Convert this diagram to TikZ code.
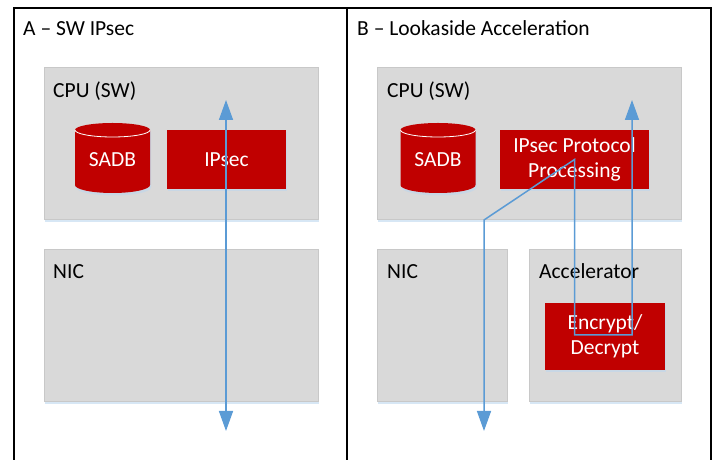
\documentclass[tikz,border=0pt]{standalone}
\usepackage{fontspec}
\setmainfont{Carlito}
\usetikzlibrary{arrows.meta,shadows}
\definecolor{boxgray}{HTML}{D9D9D9}
\definecolor{boxline}{HTML}{C8C8C8}
\definecolor{boxred}{HTML}{C00000}
\definecolor{flowblue}{HTML}{5B9BD5}
\definecolor{glow}{HTML}{BDD7EE}
\tikzset{glowshadow/.style={drop shadow={fill=glow, opacity=0.6, shadow xshift=1pt, shadow yshift=-2.5pt}}}
\tikzset{panel/.style={draw=boxline, fill=boxgray, line width=0.8pt, inner sep=0pt, anchor=south west, glowshadow}}
\tikzset{redbox/.style={fill=boxred, text=white, align=center, inner sep=0pt, glowshadow}}
\tikzset{lbl/.style={anchor=base west, inner sep=0pt}}
\tikzset{flow/.style={draw=flowblue, line width=1.5pt, {Triangle[width=14pt,length=20pt]}-{Triangle[width=14pt,length=20pt]}}}
\tikzset{font={\fontsize{21.5pt}{25pt}\selectfont}}

\begin{document}
\begin{tikzpicture}[x=1pt, y=1pt]
    \clip (0,0) rectangle (716,460);
    % the two frames
    \draw[line width=1.5pt] (14,-10) -- (14,452) -- (711,452) -- (711,-10);
    \draw[line width=1.5pt] (347,-10) -- (347,452);
    \node[lbl] (titleA) at (23,424) {A -- SW IPsec};
    \node[lbl] (titleB) at (357,424) {B -- Lookaside Acceleration};

    % grey blocks
    \foreach \n\x\y\w in {cpuA/44/240/274, nicA/44/58/274, cpuB/377/240/304, nicB/377/58/130, acc/529/58/152}{
        \node[panel, minimum width=\w, minimum height=152] (\n) at (\x,\y) {};
    }
    \node[lbl] at ([shift={(9,-30)}]cpuA.north west) {CPU (SW)};
    \node[lbl] at ([shift={(9,-29)}]nicA.north west) {NIC};
    \node[lbl] at ([shift={(10,-30)}]cpuB.north west) {CPU (SW)};
    \node[lbl] at ([shift={(10,-29)}]nicB.north west) {NIC};
    \node[lbl] at ([shift={(10,-29)}]acc.north west) {Accelerator};

    % databases
    \foreach \n\x in {sadbA/112.5, sadbB/438}{
        \fill[boxred, glowshadow] (\x-37.5,330) -- (\x-37.5,275)
            arc[start angle=180, end angle=360, x radius=37.5, y radius=8]
            -- (\x+37.5,330) arc[start angle=0, end angle=180, x radius=37.5, y radius=7] -- cycle;
        \draw[white, line width=0.8pt] (\x-37.5,330) arc[start angle=180, end angle=360, x radius=37.5, y radius=7];
        \node[text=white] (\n) at (\x,300) {SADB};
    }

    % processing blocks
    \node[redbox, minimum width=119, minimum height=59] (ipsA) at (226.5,300.5) {IPsec};
    \node[redbox, minimum width=149, minimum height=59] (ipsB) at (574.5,300.5) {IPsec Protocol\\Processing};
    \node[redbox, minimum width=120, minimum height=67] (crypt) at (605,123.5) {Encrypt/\\Decrypt};

    % packet paths
    \coordinate (outA) at (226,29);
    \coordinate (inA) at (226,360);
    \draw[flow] (outA) -- (inA);
    \coordinate (outB) at (484,29);
    \coordinate (inB) at (632,360);
    \coordinate (turn) at (632,125);
    \draw[flow] (outB) -- (outB |- cpuB.south) -- (ipsB.center) -- (ipsB.center |- turn) -- (turn) -- (inB);
\end{tikzpicture}
\end{document}
